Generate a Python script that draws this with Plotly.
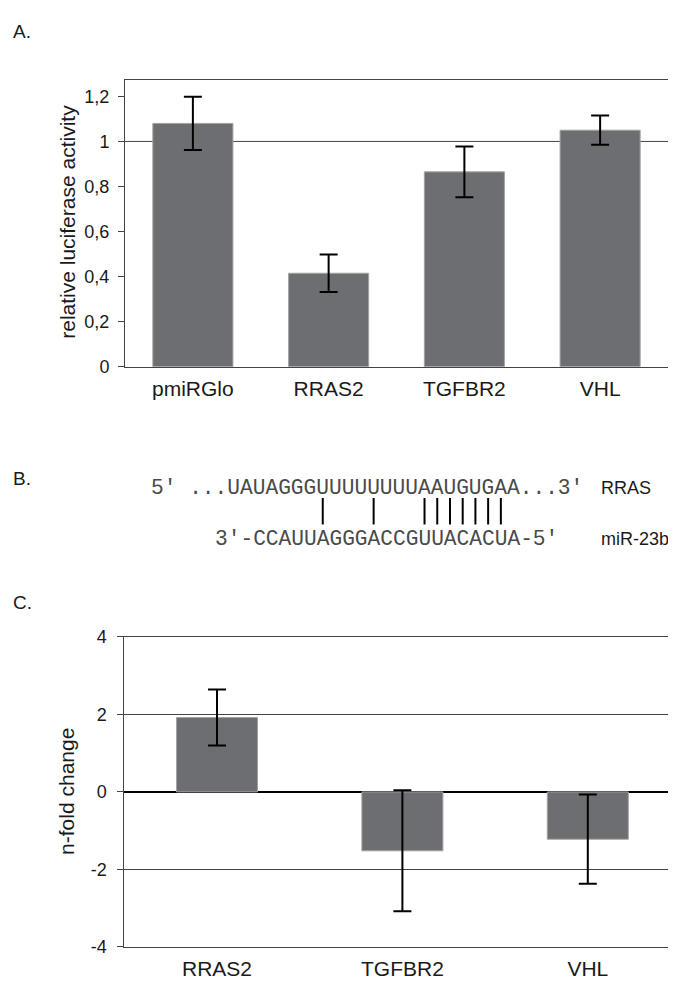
import plotly.graph_objects as go

W, H = 676, 982

# ---------------- data ----------------
cats_a = ["pmiRGlo", "RRAS2", "TGFBR2", "VHL"]
vals_a = [1.08, 0.415, 0.865, 1.05]
err_a = [0.118, 0.083, 0.113, 0.065]
ticks_a = [0, 0.2, 0.4, 0.6, 0.8, 1.0, 1.2]
ticklabels_a = ["0", "0,2", "0,4", "0,6", "0,8", "1", "1,2"]
ref_line_a = 1.0
title_a = "relative luciferase activity"

cats_c = ["RRAS2", "TGFBR2", "VHL"]
vals_c = [1.92, -1.52, -1.22]
err_c = [0.72, 1.56, 1.15]
ticks_c = [-4, -2, 0, 2, 4]
ticklabels_c = ["-4", "-2", "0", "2", "4"]
title_c = "n-fold change"

target_prefix = "5' ..."
target_seq = "UAUAGGGUUUUUUUUAAUGUGAA"
target_suffix = "...3'"
mirna_prefix = "3'-"
mirna_seq = "CCAUUAGGGACCGUUACACUA"
mirna_suffix = "-5'"
mirna_align = 2          # target_seq index above the first miRNA base
label_target = "RRAS"
label_mirna = "miR-23b"

# ---------------- helpers ----------------
def px(x):
    return x / W


def py(y):
    return 1 - y / H


BAR = "#6d6e72"
EDGE = "#a3a3a3"
AX = "#444444"
SANS = "Liberation Sans, Arial, sans-serif"
MONO = "Liberation Mono, Courier New, monospace"
TXT = "#1a1a1a"

fig = go.Figure()

fig.add_trace(go.Bar(
    x=cats_a, y=vals_a, width=0.59,
    marker=dict(color=BAR, line=dict(color=EDGE, width=1)),
    error_y=dict(type="data", array=err_a, color="black", thickness=2, width=9),
    xaxis="x", yaxis="y", showlegend=False, hoverinfo="skip",
))

fig.add_trace(go.Bar(
    x=cats_c, y=vals_c, width=0.437,
    marker=dict(color=BAR, line=dict(color=EDGE, width=1)),
    error_y=dict(type="data", array=err_c, color="black", thickness=2, width=9),
    xaxis="x2", yaxis="y2", showlegend=False, hoverinfo="skip",
))

fig.update_layout(
    width=W, height=H,
    margin=dict(l=0, r=0, t=0, b=0),
    paper_bgcolor="white", plot_bgcolor="white",
    font=dict(family=SANS, color=TXT),
    xaxis=dict(
        domain=[px(117), px(660)], anchor="y",
        showline=True, linecolor=AX, linewidth=1, mirror=True,
        ticks="outside", ticklen=3, tickcolor="rgba(0,0,0,0)",
        tickfont=dict(size=21, family=SANS),
        showgrid=False, zeroline=False,
    ),
    yaxis=dict(
        domain=[py(356), py(63)], anchor="x",
        range=[0, 1.274],
        tickvals=ticks_a, ticktext=ticklabels_a,
        ticks="outside", ticklen=6, tickcolor=AX,
        ticklabelstandoff=5,
        tickfont=dict(size=18, family=SANS),
        showline=True, linecolor=AX, linewidth=1, mirror=True,
        showgrid=False, zeroline=False,
    ),
    xaxis2=dict(
        domain=[px(116.3), px(672.5)], anchor="y2",
        showline=True, linecolor=AX, linewidth=1, mirror=True,
        ticks="outside", ticklen=3, tickcolor="rgba(0,0,0,0)",
        tickfont=dict(size=21, family=SANS),
        showgrid=False, zeroline=False,
    ),
    yaxis2=dict(
        domain=[py(948.3), py(631.7)], anchor="x2",
        range=[-4, 4], tickvals=ticks_c, ticktext=ticklabels_c,
        ticks="outside", ticklen=6, tickcolor=AX,
        ticklabelstandoff=7,
        tickfont=dict(size=18, family=SANS),
        showline=True, linecolor=AX, linewidth=1, mirror=True,
        showgrid=True, gridcolor=AX, gridwidth=1,
        zeroline=True, zerolinecolor="black", zerolinewidth=2,
    ),
)

# axis titles (rotated)
fig.add_annotation(text=title_a, xref="paper", yref="paper", x=px(60), y=py(208),
                   textangle=-90, xanchor="center", yanchor="middle", showarrow=False,
                   font=dict(size=21, family=SANS, color=TXT))
fig.add_annotation(text=title_c, xref="paper", yref="paper", x=px(59), y=py(790),
                   textangle=-90, xanchor="center", yanchor="middle", showarrow=False,
                   font=dict(size=21, family=SANS, color=TXT))

# reference line at 1 in panel A
fig.add_shape(type="line", xref="x domain", yref="y", x0=0, x1=1,
              y0=ref_line_a, y1=ref_line_a, line=dict(color=AX, width=1), layer="below")

# panel letters
for letter, yy in (("A.", 14), ("B.", 470), ("C.", 597)):
    fig.add_annotation(text=letter, xref="paper", yref="paper", x=px(3), y=py(yy),
                       xanchor="left", yanchor="middle", showarrow=False,
                       font=dict(size=19, family=SANS, color=TXT))

# ---------------- panel B: sequence alignment ----------------
FS = 21.2
CW = FS * 0.6001
X0 = 143
Y1, Y2 = 480, 532
line1 = target_prefix + target_seq + target_suffix
line2 = mirna_prefix + mirna_seq + mirna_suffix
off2 = len(target_prefix) + mirna_align - len(mirna_prefix)

fig.add_annotation(text=line1, xref="paper", yref="paper", x=px(X0), y=py(Y1),
                   xanchor="left", yanchor="middle", showarrow=False,
                   borderpad=0, borderwidth=0,
                   font=dict(size=FS, family=MONO, color="#4a4a4a"))
fig.add_annotation(text=line2, xref="paper", yref="paper", x=px(X0 + off2 * CW), y=py(Y2),
                   xanchor="left", yanchor="middle", showarrow=False,
                   borderpad=0, borderwidth=0,
                   font=dict(size=FS, family=MONO, color="#4a4a4a"))
for lab, yy in ((label_target, Y1), (label_mirna, Y2)):
    fig.add_annotation(text=lab, xref="paper", yref="paper", x=px(591), y=py(yy),
                       xanchor="left", yanchor="middle", showarrow=False,
                       font=dict(size=18, family=SANS, color=TXT))

comp = {"A": "U", "U": "A", "G": "C", "C": "G"}
for j, base in enumerate(mirna_seq):
    ti = mirna_align + j
    if ti < len(target_seq) and comp[target_seq[ti]] == base:
        idx = len(target_prefix) + ti
        xc = X0 + CW * (idx + 0.5)
        fig.add_shape(type="line", xref="paper", yref="paper",
                      x0=px(xc), x1=px(xc), y0=py(490), y1=py(517),
                      line=dict(color="black", width=2))

fig.write_html("out.html")
